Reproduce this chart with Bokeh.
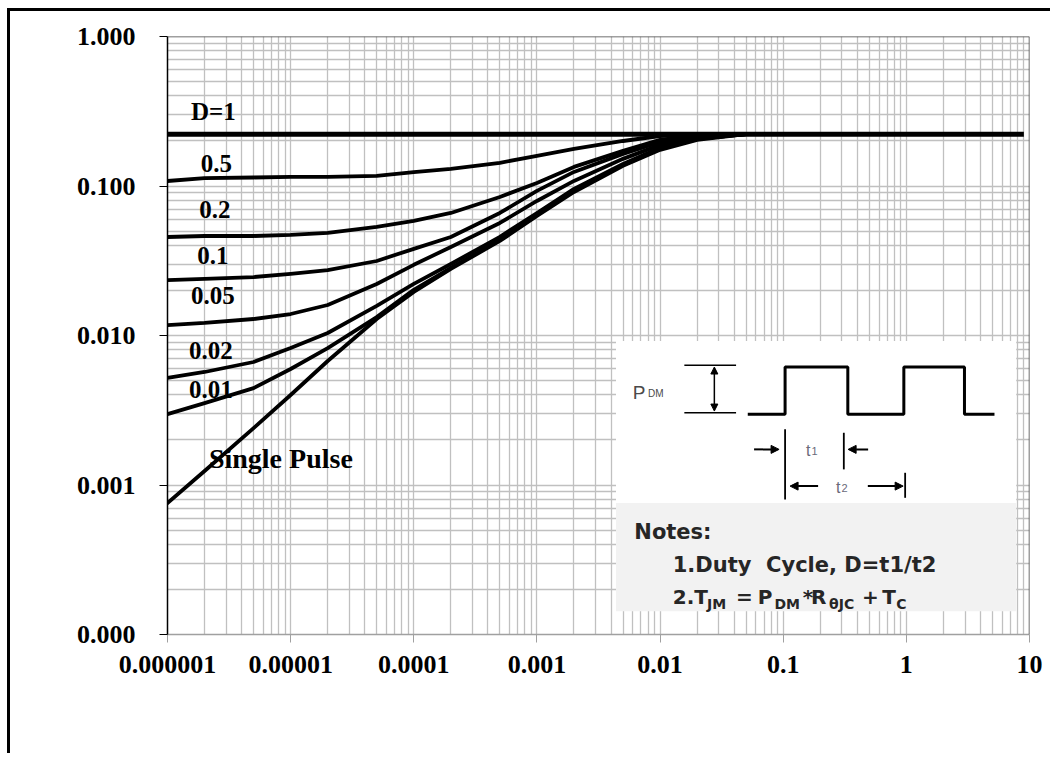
from bokeh.plotting import figure
from bokeh.models import Range1d, FixedTicker, CustomJSTickFormatter, Span, Arrow, NormalHead
from bokeh.core.properties import value
from bokeh.embed import file_html
from bokeh.resources import INLINE

# ---------------- data ----------------
x_pts = [1e-6, 2e-6, 5e-6, 1e-5, 2e-5, 5e-5, 1e-4, 2e-4, 5e-4, 1e-3, 2e-3, 5e-3, 1e-2, 2e-2, 5e-2]
z_05 = [0.108, 0.113, 0.114, 0.115, 0.115, 0.117, 0.124, 0.130, 0.143, 0.159, 0.177, 0.200, 0.216, 0.222, 0.222]
z_02 = [0.0456, 0.0463, 0.0463, 0.0471, 0.0486, 0.0533, 0.0584, 0.0660, 0.0845, 0.1048, 0.1342, 0.1718, 0.2036, 0.2198, 0.222]
z_01 = [0.0235, 0.0239, 0.0246, 0.0258, 0.0274, 0.0315, 0.0380, 0.0456, 0.0660, 0.0927, 0.1242, 0.164, 0.197, 0.2165, 0.222]
z_005 = [0.01175, 0.01213, 0.01289, 0.01392, 0.0160, 0.0221, 0.0297, 0.0391, 0.0566, 0.0794, 0.1081, 0.1519, 0.1884, 0.2133, 0.222]
z_002 = [0.00520, 0.00570, 0.00665, 0.00825, 0.01039, 0.01578, 0.02213, 0.0301, 0.0457, 0.0660, 0.0957, 0.1406, 0.180, 0.2066, 0.222]
z_001 = [0.00298, 0.00353, 0.00445, 0.00597, 0.00824, 0.01327, 0.0202, 0.0283, 0.0435, 0.0640, 0.0927, 0.1384, 0.177, 0.2066, 0.222]
z_single = [0.000757, 0.00124, 0.00240, 0.00400, 0.00675, 0.01289, 0.01955, 0.0279, 0.0429, 0.0630, 0.0912, 0.1364, 0.1745, 0.2036, 0.222]
d1_x = [1e-6, 9.0]
d1_y = [0.222, 0.222]

curve_labels = ["0.5", "0.2", "0.1", "0.05", "0.02", "0.01"]
x_tick_vals = [1e-6, 1e-5, 1e-4, 1e-3, 1e-2, 1e-1, 1, 10]
x_tick_labels = ["0.000001", "0.00001", "0.0001", "0.001", "0.01", "0.1", "1", "10"]
y_tick_vals = [1e-4, 1e-3, 1e-2, 1e-1, 1]
y_tick_labels = ["0.000", "0.001", "0.010", "0.100", "1.000"]

# ---------------- figure ----------------
SERIF = value("Liberation Serif")
SANS = value("DejaVu Sans")

p = figure(width=1043, height=745, x_axis_type="log", y_axis_type="log",
           x_range=Range1d(1e-6, 10), y_range=Range1d(1e-4, 1),
           output_backend="svg", toolbar_location=None,
           min_border_left=157, min_border_right=24, min_border_top=25, min_border_bottom=122)
p.styles = {"margin-left": "7px", "margin-top": "8px",
            "border-top": "3px solid black", "border-left": "3px solid black"}
p.outline_line_color = None
p.background_fill_color = "white"
p.border_fill_color = "white"

def minors(lo, hi):
    out = []
    for e in range(lo, hi):
        for k in range(2, 10):
            out.append(k * 10.0 ** e)
    return out

xt = FixedTicker(ticks=x_tick_vals, minor_ticks=minors(-6, 1))
yt = FixedTicker(ticks=y_tick_vals, minor_ticks=minors(-4, 0))
p.xaxis.ticker = xt
p.yaxis.ticker = yt
p.xaxis.formatter = CustomJSTickFormatter(args=dict(labels=x_tick_labels),
                                          code="return labels[Math.round(Math.log10(tick)) + 6];")
p.yaxis.formatter = CustomJSTickFormatter(args=dict(labels=y_tick_labels),
                                          code="return labels[Math.round(Math.log10(tick)) + 4];")

for ax in (p.xaxis[0], p.yaxis[0]):
    ax.major_label_text_font = "Liberation Serif"
    ax.major_label_text_font_style = "bold"
    ax.major_label_text_font_size = "26px"
    ax.major_label_text_color = "black"
    ax.minor_tick_line_color = None
    ax.major_tick_in = 0
    ax.major_tick_out = 8
p.xaxis.axis_line_color = "#a0a0a0"
p.xaxis.major_tick_line_color = "#a0a0a0"
p.xaxis.axis_line_width = 1.5
p.xaxis.major_label_standoff = 13
p.yaxis.axis_line_color = "black"
p.yaxis.axis_line_width = 1.5
p.yaxis.major_tick_line_color = "black"
p.yaxis.major_label_standoff = 24

for g in (p.xgrid[0], p.ygrid[0]):
    g.grid_line_color = "#c0c0c0"
    g.grid_line_width = 1.3
    g.minor_grid_line_color = "#c0c0c0"
    g.minor_grid_line_width = 1.3

p.add_layout(Span(location=1, dimension="width", line_color="#404040", line_width=1.5))
p.add_layout(Span(location=10, dimension="height", line_color="#404040", line_width=1.5))

# ---------------- curves ----------------
p.line(d1_x, d1_y, line_color="black", line_width=5)
for ys in (z_05, z_02, z_01, z_005, z_002, z_001, z_single):
    p.line(x_pts, ys, line_color="black", line_width=3.8, line_join="round", line_cap="round")

# page-pixel -> data helpers for annotations
FL, FT, FW, FH = 166.7, 35.7, 861.6, 597.6
def fx(px):
    return 10 ** (-6 + 7 * (px - FL) / FW)
def fy(py):
    return 10 ** (-4 * (py - FT) / FH)

def txt(xs, ys, texts, font, size, color="black", style="bold", align="left"):
    p.text([fx(v) for v in xs], [fy(v) for v in ys], text=texts, text_font=font,
           text_font_style=style, text_font_size=size, text_align=align,
           text_baseline="middle", text_color=color)

# curve labels
txt([212.5, 215.5, 214, 212, 212, 210, 210], [110.5, 162.5, 208.3, 255, 294.7, 349, 388.3],
    ["D=1"] + curve_labels, SERIF, "25px", align="center")
txt([280], [457], ["Single Pulse"], SERIF, "28px", align="center")

# ---------------- inset ----------------
p.quad(left=[fx(615)], right=[fx(1015)], top=[fy(340)], bottom=[fy(502)],
       fill_color="white", line_color=None)
p.quad(left=[fx(615)], right=[fx(1015)], top=[fy(502)], bottom=[fy(610)],
       fill_color="#f2f2f2", line_color=None)

# pulse train
px_w = [746.7, 784, 784, 846.7, 846.7, 902.7, 902.7, 963.3, 963.3, 993.3]
py_w = [413.3, 413.3, 366, 366, 413.3, 413.3, 366, 366, 413.3, 413.3]
p.line([fx(v) for v in px_w], [fy(v) for v in py_w], line_color="black", line_width=3)

# PDM bracket
for yy in (364.3, 411.7):
    p.line([fx(683.3), fx(735)], [fy(yy), fy(yy)], line_color="black", line_width=1.5)
p.add_layout(Arrow(x_start=fx(713.3), y_start=fy(366), x_end=fx(713.3), y_end=fy(410),
                   start=NormalHead(size=7, fill_color="black", line_color="black"),
                   end=NormalHead(size=7, fill_color="black", line_color="black"),
                   line_color="black", line_width=1.5))
# t1 / t2 markers
for (xx, y0, y1) in ((784, 428.3, 498.3), (842.7, 431.7, 468.3), (904, 471.7, 496.7)):
    p.line([fx(xx), fx(xx)], [fy(y0), fy(y1)], line_color="black", line_width=1.8)
for (x0, x1, yy) in ((753, 778, 448.3), (867, 847, 448.3), (817, 789, 485), (866.7, 902, 485)):
    p.add_layout(Arrow(x_start=fx(x0), y_start=fy(yy), x_end=fx(x1), y_end=fy(yy),
                       end=NormalHead(size=8, fill_color="black", line_color="black"),
                       line_color="black", line_width=2))

LS = value("Liberation Sans")
INK = "#4a4a4a"
txt([631.7], [391], ["P"], LS, "19px", INK, "normal")
txt([647], [392.5], ["DM"], LS, "10px", INK, "normal")
TC = "#6a6a7a"
txt([805, 835], [449, 486], ["t", "t"], LS, "16px", TC, "normal")
txt([810.5, 840.5], [450, 487], ["1", "2"], LS, "11px", TC, "normal")

# notes
NC = "#262626"
txt([633.3], [530.5], ["Notes:"], SANS, "21px", NC)
txt([671.7], [563.7], ["1.Duty\u00a0\u00a0Cycle, D=t1/t2"], SANS, "21px", NC)
main_parts = [("2.T", 671.7), ("=", 735), ("P", 756.7), ("*", 801.7), ("R", 810), ("+", 861), ("T", 881)]
txt([v for _, v in main_parts], [596] * len(main_parts), [t for t, _ in main_parts], SANS, "20px", NC)
sub_parts = [("JM", 706), ("DM", 773.3), ("θJC", 828), ("C", 895)]
txt([v for _, v in sub_parts], [603] * len(sub_parts), [t for t, _ in sub_parts], SANS, "14px", NC)

open("out.html", "w").write(file_html(p, INLINE))
